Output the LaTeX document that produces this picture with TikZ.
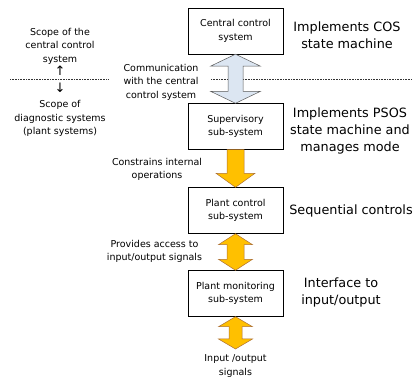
\documentclass[tikz,border=0pt]{standalone}
\usepackage{fontspec}
\setmainfont{DejaVu Sans}
\usetikzlibrary{calc, positioning}
\tikzset{
    box/.style={rectangle, draw=black, fill=white, minimum width=95pt, minimum height=46pt, inner sep=0pt, align=center, font=\fontsize{9.5}{13.5}\selectfont},
    lbl/.style={align=center, inner sep=1pt, font=\fontsize{9.5}{13.5}\selectfont},
    rolelbl/.style={align=center, inner sep=0pt, font=\fontsize{12.8}{17}\selectfont},
    sepline/.style={black!80, line width=0.5pt, dash pattern=on 1pt off 0.6pt},
    comarrow/.style={draw=black!65, line width=0.5pt, fill={rgb,255:red,220;green,230;blue,242}, line join=miter},
    ordarrow/.style={draw=orange!60!black!80, line width=0.5pt, fill={rgb,255:red,255;green,192;blue,0}, line join=miter}
}
\begin{document}
\begin{tikzpicture}[x=1pt, y=1pt]
    \useasboundingbox (0,0) rectangle (412,379);

    % Sub-system boxes
    \node[box] (cen) at (235.5,348) {Central control\\system};
    \node[box] (sup) at (235.5,252.5) {Supervisory\\sub-system};
    \node[box] (plc) at (235.5,168.5) {Plant control\\sub-system};
    \node[box] (mon) at (235.5,85.5) {Plant monitoring\\sub-system};
    \coordinate (io) at (235.5,30);

    % Scope separator
    \draw[sepline] (10,300) -- (109,300);
    \draw[sepline] (211,300) -- (412,300);
    \node[lbl] (scopecen) at (60,333) {Scope of the\\central control\\system};
    \node[lbl, font=\fontsize{13}{13}\selectfont] (upmark) at (60,308.5) {↑};
    \node[lbl, font=\fontsize{13}{13}\selectfont] (downmark) at (60,291) {↓};
    \node[lbl] (scopediag) at (60,260.5) {Scope of\\diagnostic systems\\(plant systems)};

    % Block arrows between the boxes
    \draw[comarrow] (cen.south) -- ++(-25,-12) -- ++(17.5,0) -- ($(sup.north)+(-7.5,12)$) -- ++(-17.5,0) -- (sup.north)
        -- ++(25,12) -- ++(-17.5,0) -- ($(cen.south)+(7.5,-12)$) -- ++(17.5,0) -- cycle;
    \draw[ordarrow] ($(sup.south)+(-8.5,0)$) -- ($(plc.north)+(-8.5,14)$) -- ++(-11,0) -- (plc.north)
        -- ++(19.5,14) -- ++(-11,0) -- ($(sup.south)+(8.5,0)$) -- cycle;
    \draw[ordarrow] (plc.south) -- ++(-17,-11) -- ++(8.5,0) -- ($(mon.north)+(-8.5,11)$) -- ++(-8.5,0) -- (mon.north)
        -- ++(17,11) -- ++(-8.5,0) -- ($(plc.south)+(8.5,-11)$) -- ++(8.5,0) -- cycle;
    \draw[ordarrow] (mon.south) -- ++(-17,-10) -- ++(10.5,0) -- ($(io)+(-6.5,10)$) -- ++(-10.5,0) -- (io)
        -- ++(17,10) -- ++(-10.5,0) -- ($(mon.south)+(6.5,-10)$) -- ++(10.5,0) -- cycle;

    % Interface labels
    \node[lbl] (comlbl) at (161,297) {Communication\\with the central\\control system};
    \node[lbl] (conlbl) at (157,209.5) {Constrains internal\\operations};
    \node[lbl] (acclbl) at (154.5,127.5) {Provides access to\\input/output signals};
    \node[lbl] (iolbl) at (235.5,13) {Input /output\\signals};

    % Roles
    \node[rolelbl] (cenrole) at (347,344) {Implements COS\\state machine};
    \node[rolelbl] (suprole) at (350,248.5) {Implements PSOS\\state machine and\\manages mode};
    \node[rolelbl] (plcrole) at (351,168) {Sequential controls};
    \node[rolelbl] (monrole) at (341,86.5) {Interface to\\input/output};
\end{tikzpicture}
\end{document}
